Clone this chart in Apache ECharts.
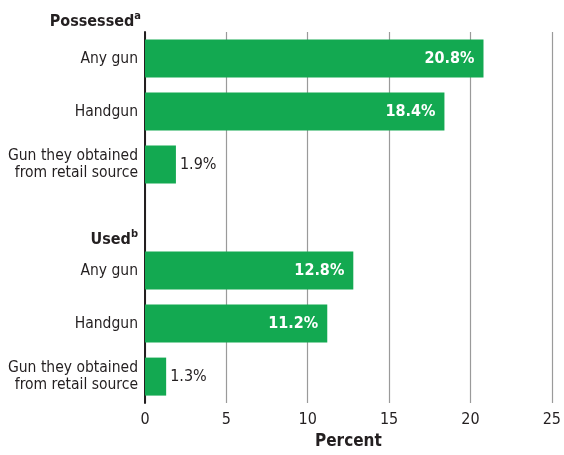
<!DOCTYPE html>
<html>
<head>
<meta charset="utf-8">
<script src="https://cdn.jsdelivr.net/npm/echarts@6/dist/echarts.min.js"></script>
<style>
html,body{margin:0;padding:0;background:#fff;}
#main{width:564px;height:455px;}
</style>
</head>
<body>
<div id="main"></div>
<script>
var categories = ['Any gun', 'Handgun', 'Gun they obtained\nfrom retail source', 'Used', 'Any gun ', 'Handgun ', 'Gun they obtained\nfrom retail source '];
var values = [20.8, 18.4, 1.9, null, 12.8, 11.2, 1.3];
var groupHeaders = ['Possessed', 'Used'];
var groupNotes = ['a', 'b'];
var xTicks = [0, 5, 10, 15, 20, 25];

var FONT = '"Liberation Sans Narrow", "DejaVu Sans Condensed", "Roboto Condensed", sans-serif';
var GREEN = '#13a951';
var TEXT = '#231f20';

var chart = echarts.init(document.getElementById('main'));
chart.setOption({
  animation: false,
  grid: { left: 145, right: 8, top: 32, bottom: 45, containLabel: false },
  xAxis: {
    type: 'value', min: xTicks[0], max: xTicks[xTicks.length - 1], interval: 5,
    axisLine: { show: false }, axisTick: { show: false },
    splitLine: { show: true, lineStyle: { color: '#9a9a9a', width: 1.2 } },
    axisLabel: { color: TEXT, fontFamily: FONT, fontSize: 16, margin: 9 },
    name: 'Percent', nameLocation: 'middle', nameGap: 28,
    nameTextStyle: { color: TEXT, fontFamily: FONT, fontSize: 17, fontWeight: 'bold' }
  },
  yAxis: {
    type: 'category', data: categories, inverse: true,
    axisLine: { show: true, lineStyle: { color: '#231f20', width: 2 } },
    axisTick: { show: false },
    axisLabel: {
      color: TEXT, fontFamily: FONT, fontSize: 15.5, margin: 7, lineHeight: 17, align: 'right',
      formatter: function (v, i) {
        if (i === 3) return '{h|' + groupHeaders[1] + '}{s|' + groupNotes[1] + '}';
        return v.trim();
      },
      rich: {
        h: { fontFamily: FONT, fontSize: 16, fontWeight: 'bold', color: TEXT, padding: [44, 0, 0, 0] },
        s: { fontFamily: FONT, fontSize: 11, fontWeight: 'bold', color: TEXT, padding: [34, 0, 0, 0] }
      }
    }
  },
  graphic: [{
    type: 'text', right: 564 - 141, top: 11,
    style: {
      text: '{h|' + groupHeaders[0] + '}{s|' + groupNotes[0] + '}',
      rich: {
        h: { fontFamily: FONT, fontSize: 16, fontWeight: 'bold', fill: TEXT },
        s: { fontFamily: FONT, fontSize: 11, fontWeight: 'bold', fill: TEXT, padding: [0, 0, 10, 0] }
      }
    }
  }],
  series: [{
    type: 'bar', data: values.map(function (v) {
      var big = v !== null && v > 5;
      return {
        value: v,
        label: big ? { position: 'insideRight', distance: 9, color: '#fff', fontWeight: 'bold' }
                   : { position: 'right', distance: 4, color: TEXT, fontWeight: 'normal' }
      };
    }),
    barWidth: 38,
    itemStyle: { color: GREEN },
    label: {
      show: true, fontFamily: FONT, fontSize: 16,
      formatter: function (p) { return p.value.toFixed(1) + '%'; }
    }
  }]
});
</script>
</body>
</html>
